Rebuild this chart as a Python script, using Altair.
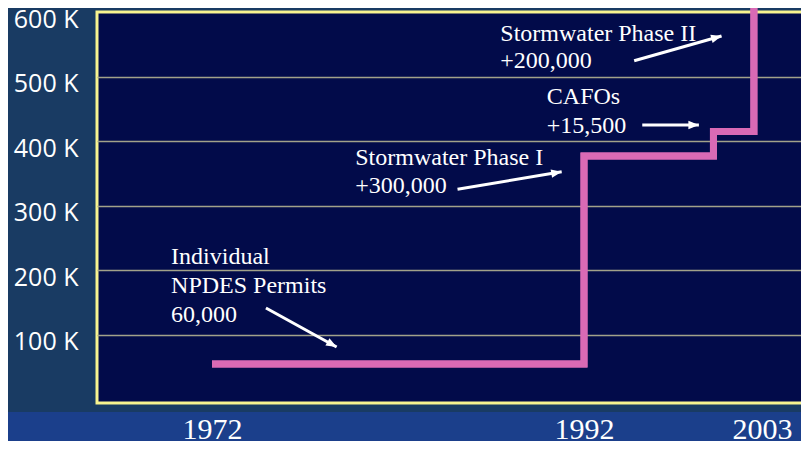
import altair as alt
import pandas as pd

# --- data ---
step_years = [1972, 1992, 2000, 2002.5, 2007]
step_values = [55000, 377000, 415000, 615000, 615000]

tick_years = [1972, 1992, 2003]
tick_values = [100000, 200000, 300000, 400000, 500000, 600000]

note_lines = ["Stormwater Phase II", "+200,000", "CAFOs", "+15,500",
              "Stormwater Phase I", "+300,000", "Individual", "NPDES Permits", "60,000"]
note_years = [1987.5, 1987.5, 1990.0, 1990.0, 1979.7, 1979.7, 1969.8, 1969.8, 1969.8]
note_values = [555600, 512900, 457600, 412700, 363100, 319800, 209800, 164900, 120000]

arrow_from_years = [1995.1, 1995.6, 1985.2, 1974.9]
arrow_from_values = [524600, 425100, 325500, 141700]
arrow_to_years = [2000.5, 1999.1, 1990.8, 1978.7]
arrow_to_values = [562900, 425100, 352700, 81300]
arrow_angles = [74, 90, 80, 119]

# --- tables ---
steps = pd.DataFrame({"year": step_years, "permits": step_values})
notes = pd.DataFrame({"year": note_years, "permits": note_values, "label": note_lines})
arrows = pd.DataFrame({"x1": arrow_from_years, "y1": arrow_from_values,
                       "x2": arrow_to_years, "y2": arrow_to_values, "angle": arrow_angles})
strip = pd.DataFrame({"k": [0]})

W, H = 716, 391

# piecewise time axis (the slide's axis is not evenly spaced)
xscale = alt.Scale(type="linear", domain=[1965.82, 1972, 1992, 2003, 2006.15],
                   range=[0, 115, 487, 665, W], nice=False, zero=False)
yscale = alt.Scale(domain=[-5400, 600000], nice=False, zero=False)

x_axis = alt.Axis(values=tick_years, format="d", title=None, ticks=False, domain=False,
                  grid=False, labelFont="Liberation Serif", labelFontSize=30,
                  labelColor="white", labelPadding=11, labelFlush=False,
                  labelOverlap=False, zindex=1)
y_axis = alt.Axis(values=tick_values, title=None, ticks=False, domain=False, grid=True,
                  gridColor={"condition": {"test": "datum.value >= 600000",
                                           "value": "transparent"},
                             "value": "#a2a28a"},
                  gridWidth=1.5,
                  labelExpr="format(datum.value / 1000, 'd') + ' K'",
                  labelFont="Open Sans", labelFontSize=25, labelColor="white",
                  labelPadding=19, labelOffset=7, labelFlush=False,
                  labelOverlap=False, zindex=0)

line = alt.Chart(steps).mark_line(
    interpolate="step-after", color="#D96AB5", strokeWidth=7, strokeCap="butt", strokeJoin="miter"
).encode(
    x=alt.X("year:Q", scale=xscale, axis=x_axis),
    y=alt.Y("permits:Q", scale=yscale, axis=y_axis),
)

bottom_strip = alt.Chart(strip).mark_rect(color="#1b3f8b").encode(
    x=alt.value(-100), x2=alt.value(W + 20), y=alt.value(400), y2=alt.value(H + 60)
)

text = alt.Chart(notes).mark_text(
    align="left", baseline="alphabetic", font="Liberation Serif", fontSize=24, color="white"
).encode(
    x=alt.X("year:Q", scale=xscale),
    y=alt.Y("permits:Q", scale=yscale),
    text="label:N",
)

shafts = alt.Chart(arrows).mark_rule(color="white", strokeWidth=3, strokeCap="butt").encode(
    x=alt.X("x1:Q", scale=xscale),
    y=alt.Y("y1:Q", scale=yscale),
    x2="x2:Q",
    y2="y2:Q",
)

heads = alt.Chart(arrows).mark_point(
    shape="M0,0L-0.8,2L0.8,2Z", filled=True, color="white", opacity=1, size=110
).encode(
    x=alt.X("x2:Q", scale=xscale),
    y=alt.Y("y2:Q", scale=yscale),
    angle=alt.Angle("angle:Q", scale=None),
)

chart = alt.layer(line, bottom_strip, text, shafts, heads, line).properties(
    width=W, height=H,
    autosize=alt.AutoSizeParams(type="none"),
    padding={"left": 89, "top": 4, "right": -12, "bottom": 38},
    background="#193b63",
).configure_view(
    fill="#020b4a", stroke="#F8F48F", strokeWidth=3
)

chart.save("out.html", embed_options={"renderer": "svg", "actions": False})
